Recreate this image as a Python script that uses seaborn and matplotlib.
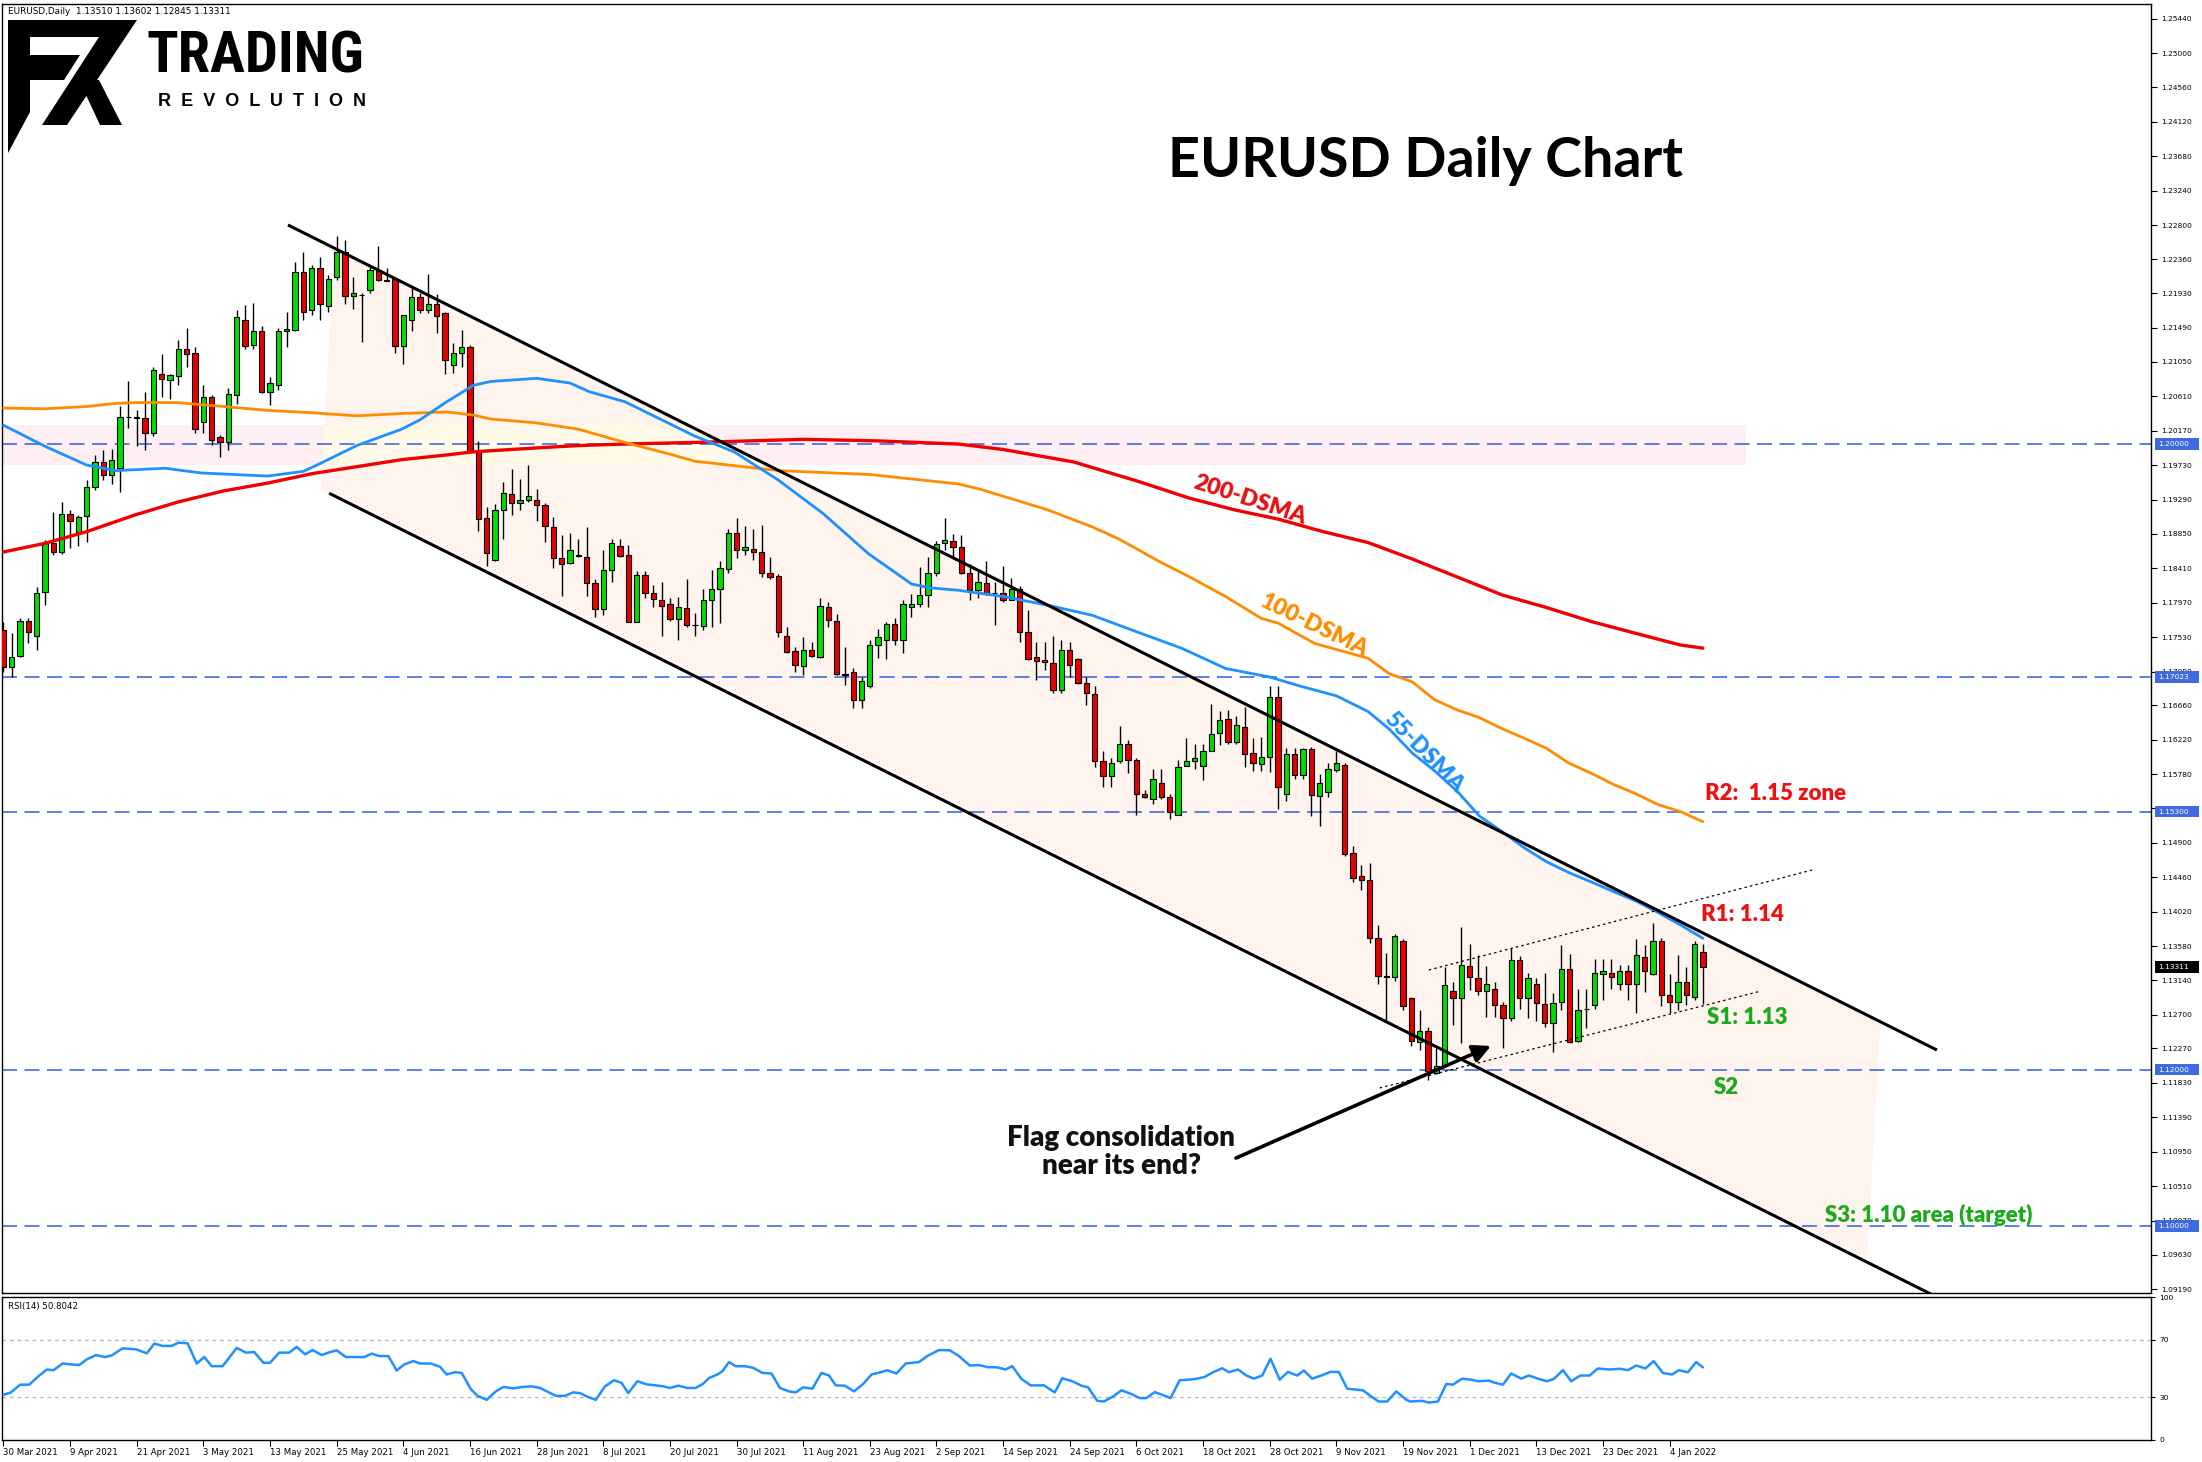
import numpy as np
import pandas as pd
import matplotlib
matplotlib.use('Agg')
import matplotlib.pyplot as plt
import matplotlib.transforms as mtransforms
from matplotlib.patches import Polygon, Rectangle
from matplotlib import font_manager
import seaborn as sns

# ---------------- data ----------------
opens = [1.1762,1.1715,1.1729,1.1774,1.1754,1.1811,1.1873,1.1862,1.1911,1.1888,
         1.1908,1.1945,1.1977,1.1960,1.1969,1.2034,1.2034,1.2033,1.2014,1.2089,
         1.2082,1.2087,1.2122,1.2116,1.2028,1.2060,1.2009,1.2002,1.2063,1.2158,
         1.2126,1.2144,1.2067,1.2076,1.2144,1.2146,1.2220,1.2172,1.2225,1.2176,
         1.2213,1.2246,1.2189,1.2191,1.2197,1.2222,1.2209,1.2211,1.2125,1.2159,
         1.2188,1.2172,1.2179,1.2167,1.2101,1.2116,1.2124,1.1991,1.1905,1.1852,
         1.1916,1.1936,1.1924,1.1929,1.1929,1.1922,1.1894,1.1854,1.1848,1.1857,
         1.1855,1.1822,1.1789,1.1839,1.1870,1.1858,1.1773,1.1833,1.1809,1.1801,
         1.1795,1.1776,1.1790,1.1769,1.1767,1.1800,1.1814,1.1840,1.1886,1.1864,
         1.1866,1.1862,1.1835,1.1831,1.1754,1.1735,1.1716,1.1737,1.1727,1.1791,
         1.1774,1.1706,1.1708,1.1673,1.1690,1.1743,1.1750,1.1770,1.1749,1.1791,
         1.1795,1.1807,1.1835,1.1873,1.1876,1.1868,1.1835,1.1813,1.1822,1.1810,
         1.1809,1.1801,1.1815,1.1759,1.1727,1.1724,1.1720,1.1685,1.1737,1.1725,
         1.1694,1.1680,1.1595,1.1575,1.1594,1.1617,1.1596,1.1552,1.1546,1.1566,
         1.1548,1.1526,1.1588,1.1594,1.1588,1.1608,1.1630,1.1648,1.1619,1.1638,
         1.1605,1.1591,1.1600,1.1677,1.1552,1.1604,1.1577,1.1610,1.1550,1.1555,
         1.1583,1.1590,1.1477,1.1448,1.1443,1.1368,1.1320,1.1319,1.1364,1.1291,
         1.1235,1.1249,1.1196,1.1205,1.1300,1.1291,1.1333,1.1317,1.1300,1.1303,
         1.1282,1.1266,1.1340,1.1292,1.1309,1.1284,1.1259,1.1286,1.1329,1.1237,
         1.1277,1.1282,1.1322,1.1323,1.1309,1.1326,1.1309,1.1344,1.1322,1.1365,
         1.1295,1.1286,1.1312,1.1293,1.13510]
highs = [1.1773,1.1758,1.1777,1.1777,1.1817,1.1877,1.1913,1.1926,1.1916,1.1909,
         1.1954,1.1986,1.1992,1.1993,1.2048,1.2080,1.2043,1.2067,1.2099,1.2115,
         1.2090,1.2133,1.2149,1.2124,1.2075,1.2063,1.2011,1.2071,1.2171,1.2178,
         1.2180,1.2151,1.2086,1.2148,1.2169,1.2233,1.2245,1.2229,1.2239,1.2216,
         1.2266,1.2261,1.2213,1.2193,1.2227,1.2253,1.2225,1.2213,1.2165,1.2199,
         1.2193,1.2217,1.2192,1.2169,1.2129,1.2146,1.2127,1.2004,1.1920,1.1923,
         1.1952,1.1968,1.1955,1.1973,1.1943,1.1924,1.1907,1.1884,1.1886,1.1879,
         1.1894,1.1828,1.1865,1.1879,1.1879,1.1871,1.1837,1.1837,1.1820,1.1824,
         1.1803,1.1804,1.1828,1.1784,1.1815,1.1839,1.1850,1.1891,1.1906,1.1895,
         1.1891,1.1897,1.1856,1.1834,1.1766,1.1740,1.1753,1.1747,1.1803,1.1798,
         1.1783,1.1740,1.1713,1.1702,1.1749,1.1763,1.1773,1.1777,1.1800,1.1808,
         1.1843,1.1855,1.1876,1.1906,1.1885,1.1884,1.1847,1.1837,1.1850,1.1824,
         1.1844,1.1829,1.1818,1.1788,1.1747,1.1747,1.1754,1.1749,1.1747,1.1726,
         1.1702,1.1690,1.1608,1.1598,1.1639,1.1621,1.1598,1.1558,1.1584,1.1584,
         1.1552,1.1596,1.1624,1.1616,1.1616,1.1668,1.1658,1.1660,1.1652,1.1664,
         1.1624,1.1625,1.1691,1.1690,1.1611,1.1611,1.1611,1.1613,1.1578,1.1592,
         1.1607,1.1592,1.1486,1.1462,1.1464,1.1385,1.1349,1.1374,1.1367,1.1293,
         1.1276,1.1255,1.1228,1.1331,1.1312,1.1382,1.1360,1.1347,1.1333,1.1312,
         1.1287,1.1355,1.1345,1.1324,1.1317,1.1324,1.1298,1.1359,1.1348,1.1303,
         1.1303,1.1341,1.1342,1.1342,1.1334,1.1334,1.1367,1.1359,1.1387,1.1368,
         1.1322,1.1347,1.1331,1.1364,1.13602]
lows = [1.1709,1.1702,1.1728,1.1745,1.1737,1.1794,1.1858,1.1859,1.1867,1.1869,
        1.1875,1.1941,1.1954,1.1949,1.1939,1.2020,1.1997,1.1992,1.2010,1.2060,
        1.2058,1.2075,1.2099,1.2014,1.2014,1.1999,1.1984,1.1992,1.2051,1.2122,
        1.2122,1.2065,1.2050,1.2069,1.2124,1.2145,1.2158,1.2165,1.2159,1.2169,
        1.2210,1.2179,1.2173,1.2130,1.2193,1.2209,1.2208,1.2117,1.2102,1.2144,
        1.2167,1.2167,1.2142,1.2090,1.2091,1.2099,1.1990,1.1889,1.1844,1.1851,
        1.1878,1.1909,1.1916,1.1926,1.1901,1.1875,1.1841,1.1805,1.1847,1.1856,
        1.1806,1.1779,1.1781,1.1824,1.1855,1.1772,1.1772,1.1803,1.1792,1.1754,
        1.1774,1.1749,1.1766,1.1754,1.1762,1.1766,1.1771,1.1835,1.1854,1.1858,
        1.1852,1.1830,1.1827,1.1753,1.1733,1.1708,1.1705,1.1728,1.1726,1.1766,
        1.1705,1.1692,1.1663,1.1662,1.1688,1.1726,1.1725,1.1743,1.1733,1.1779,
        1.1792,1.1792,1.1831,1.1864,1.1855,1.1834,1.1800,1.1803,1.1807,1.1769,
        1.1798,1.1800,1.1747,1.1724,1.1698,1.1711,1.1682,1.1682,1.1702,1.1693,
        1.1666,1.1587,1.1561,1.1561,1.1592,1.1579,1.1526,1.1547,1.1540,1.1546,
        1.1521,1.1525,1.1588,1.1585,1.1570,1.1607,1.1615,1.1617,1.1617,1.1587,
        1.1582,1.1582,1.1580,1.1533,1.1544,1.1572,1.1571,1.1524,1.1511,1.1548,
        1.1581,1.1473,1.1440,1.1430,1.1362,1.1309,1.1264,1.1313,1.1276,1.1230,
        1.1225,1.1187,1.1194,1.1204,1.1257,1.1234,1.1302,1.1295,1.1267,1.1267,
        1.1228,1.1262,1.1278,1.1266,1.1262,1.1254,1.1222,1.1276,1.1234,1.1235,
        1.1253,1.1278,1.1289,1.1303,1.1302,1.1289,1.1273,1.1299,1.1321,1.1281,
        1.1272,1.1276,1.1283,1.1289,1.12845]
closes = [1.1715,1.1728,1.1774,1.1760,1.1810,1.1873,1.1862,1.1911,1.1901,1.1907,
          1.1945,1.1977,1.1960,1.1980,1.2034,1.2035,1.2033,1.2014,1.2095,1.2083,
          1.2088,1.2122,1.2115,1.2019,1.2060,1.2005,1.2002,1.2064,1.2162,1.2125,
          1.2144,1.2067,1.2078,1.2144,1.2147,1.2220,1.2169,1.2225,1.2179,1.2211,
          1.2246,1.2189,1.2193,1.2190,1.2222,1.2210,1.2210,1.2125,1.2165,1.2188,
          1.2172,1.2179,1.2164,1.2107,1.2117,1.2124,1.1991,1.1904,1.1860,1.1916,
          1.1937,1.1924,1.1929,1.1934,1.1922,1.1895,1.1854,1.1847,1.1864,1.1858,
          1.1822,1.1789,1.1839,1.1874,1.1857,1.1773,1.1833,1.1809,1.1802,1.1793,
          1.1776,1.1791,1.1769,1.1768,1.1801,1.1815,1.1841,1.1886,1.1865,1.1868,
          1.1862,1.1835,1.1830,1.1760,1.1734,1.1717,1.1737,1.1729,1.1793,1.1775,
          1.1706,1.1705,1.1673,1.1697,1.1743,1.1753,1.1770,1.1749,1.1795,1.1795,
          1.1807,1.1835,1.1872,1.1877,1.1868,1.1835,1.1813,1.1823,1.1808,1.1809,
          1.1801,1.1815,1.1759,1.1725,1.1722,1.1721,1.1685,1.1737,1.1718,1.1694,
          1.1681,1.1595,1.1575,1.1592,1.1617,1.1596,1.1552,1.1548,1.1572,1.1548,
          1.1529,1.1587,1.1595,1.1598,1.1608,1.1629,1.1647,1.1619,1.1641,1.1604,
          1.1592,1.1600,1.1677,1.1561,1.1604,1.1577,1.1610,1.1551,1.1566,1.1584,
          1.1592,1.1476,1.1445,1.1442,1.1368,1.1320,1.1319,1.1371,1.1281,1.1236,
          1.1249,1.1198,1.1205,1.1308,1.1291,1.1334,1.1319,1.1300,1.1309,1.1283,
          1.1266,1.1340,1.1292,1.1317,1.1285,1.1259,1.1285,1.1329,1.1235,1.1276,
          1.1278,1.1323,1.1326,1.1319,1.1326,1.1310,1.1346,1.1326,1.1365,1.1296,
          1.1286,1.1312,1.1296,1.1361,1.13311]

date_labels = ['30 Mar 2021', '9 Apr 2021', '21 Apr 2021', '3 May 2021', '13 May 2021',
               '25 May 2021', '4 Jun 2021', '16 Jun 2021', '28 Jun 2021', '8 Jul 2021',
               '20 Jul 2021', '30 Jul 2021', '11 Aug 2021', '23 Aug 2021', '2 Sep 2021',
               '14 Sep 2021', '24 Sep 2021', '6 Oct 2021', '18 Oct 2021', '28 Oct 2021',
               '9 Nov 2021', '19 Nov 2021', '1 Dec 2021', '13 Dec 2021', '23 Dec 2021',
               '4 Jan 2022']

ma55_x = [0, 5, 10, 13.5, 19.4, 23.7, 31.7, 36, 38, 42.4, 47.8, 50, 53.2, 56.4, 58.5, 64,
          68, 70.3, 74.6, 79, 83, 87.7, 93, 98.4, 103.8, 109, 111.3, 114.6, 120, 125.3,
          130.7, 136, 141.4, 146.7, 152, 155.8, 160, 163.8, 166.4, 169.1, 171.8, 174.5,
          177.2, 179.8, 182.5, 185.2, 187.9, 190.6, 193.2, 195.9, 198.6, 201.3, 204]
ma55 = [1.2024, 1.1997, 1.1973, 1.1966, 1.1969, 1.1963, 1.1959, 1.1965, 1.1975, 1.1998,
        1.2019, 1.2031, 1.2054, 1.2075, 1.2080, 1.2084, 1.2078, 1.2067, 1.2054, 1.2031,
        1.2010, 1.1990, 1.1954, 1.1911, 1.1860, 1.1821, 1.1816, 1.1813, 1.1805, 1.1794,
        1.1781, 1.1760, 1.1739, 1.1713, 1.1702, 1.1690, 1.1678, 1.1658, 1.1635, 1.1605,
        1.1582, 1.1556, 1.1524, 1.1505, 1.1484, 1.1466, 1.1452, 1.1440, 1.1428, 1.1416,
        1.1401, 1.1385, 1.1368]

ma100_x = [0, 5, 10, 13.5, 16, 21, 23, 26.4, 31.7, 37, 42.4, 47.8, 53.2, 56.4, 58.5, 64,
           69, 74.6, 80, 83, 93, 104, 114.6, 117.3, 125.3, 130.7, 134, 138.7, 142.4,
           146.7, 151, 153, 157.4, 163.8, 166.4, 169.1, 171.8, 174.5, 177.2, 179.9, 182.5,
           185.2, 187.9, 190.6, 193.2, 195.9, 198.6, 201.3, 204]
ma100 = [1.2046, 1.2045, 1.2048, 1.2052, 1.2053, 1.2053, 1.2051, 1.2048, 1.2043, 1.2040,
         1.2036, 1.2039, 1.2041, 1.2037, 1.2032, 1.2027, 1.2019, 1.2002, 1.1987, 1.1978,
         1.1966, 1.1961, 1.1949, 1.1942, 1.1916, 1.1894, 1.1878, 1.1850, 1.1830, 1.1805,
         1.1777, 1.1771, 1.1745, 1.1726, 1.1706, 1.1696, 1.1673, 1.1660, 1.1650, 1.1636,
         1.1624, 1.1611, 1.1592, 1.1579, 1.1565, 1.1553, 1.1539, 1.1530, 1.1517]

ma200_x = [0, 5, 10, 15.7, 21, 26.4, 31.7, 37, 42.4, 47.8, 53.2, 56.4, 64, 69, 74.6, 83,
           96, 105, 114.6, 120, 128.5, 131.6, 136, 142.3, 147.7, 153, 158.4, 163.8, 169.1,
           174.5, 179.9, 185.2, 190.6, 195.9, 201.3, 204]
ma200 = [1.1862, 1.1873, 1.1888, 1.1909, 1.1926, 1.1940, 1.1950, 1.1962, 1.1971, 1.1980,
         1.1986, 1.1990, 1.1995, 1.1998, 1.2000, 1.2002, 1.2006, 1.2004, 1.2000, 1.1993,
         1.1977, 1.1967, 1.1953, 1.1931, 1.1916, 1.1904, 1.1888, 1.1874, 1.1853, 1.1830,
         1.1807, 1.1791, 1.1773, 1.1758, 1.1743, 1.1739]

rsi_x = [0.0, 0.9, 2.0, 3.1, 4.1, 5.2, 6.0, 7.1, 8.2, 9.1, 10.0, 11.1, 12.2, 13.0, 14.3, 15.9,
         17.2, 18.1, 19.1, 20.2, 21.0, 22.1, 23.2, 24.1, 25.0, 26.3, 28.0, 29.1, 30.1, 31.2,
         32.0, 33.1, 34.3, 35.2, 36.2, 37.1, 38.2, 39.2, 40.0, 41.1, 42.2, 43.3, 44.2, 45.1,
         46.2, 47.2, 48.1, 49.2, 50.0, 51.3, 52.4, 53.2, 54.2, 55.0, 56.1, 56.9, 58.0, 59.1,
         60.0, 61.2, 62.3, 63.4, 64.4, 65.4, 66.3, 67.4, 68.4, 69.2, 70.2, 71.1, 72.2, 73.3,
         74.2, 75.0, 76.1, 77.2, 78.3, 79.2, 80.0, 81.0, 82.1, 83.1,
         84.0, 84.7, 85.7, 86.3, 87.1, 87.9, 89.0, 90.0, 91.1, 92.2, 93.2, 94.3, 95.1, 96.0,
         97.1, 98.2, 99.1, 99.9, 101.0, 102.1, 103.2, 104.2, 105.3, 106.1, 107.2, 108.3,
         109.9, 110.9, 112.3, 113.6, 114.7, 116.0, 117.1, 118.2, 119.2, 120.3, 121.1, 122.2,
         123.3, 124.9, 126.2, 127.1, 128.3, 129.4, 130.2, 131.3, 132.1, 133.2, 134.2, 135.3,
         136.4, 137.2, 138.2, 139.1, 140.1, 141.2, 142.3, 143.1, 144.2, 145.2, 146.3, 147.1,
         148.2, 149.2, 150.1, 151.1, 152.1, 153.2, 154.2, 155.3, 156.1, 157.1, 158.2, 159.3,
         160.3, 161.3, 162.4, 163.2, 164.3, 165.1, 166.1, 167.2,
         168.4, 168.9, 170.3, 171.1, 172.2, 173.2, 174.0, 175.1, 176.2, 177.0, 178.3, 179.1,
         180.0, 181.0, 182.2, 183.1, 184.2, 185.3, 186.1, 187.2, 188.2, 189.3, 190.4, 191.4,
         192.8, 194.1, 195.0, 196.0, 197.1, 198.1, 199.2, 200.3, 201.1, 202.2, 203.2, 204.0]
rsi_v = [31.6, 33.3, 38.7, 38.7, 44.1, 49.3, 48.8, 53.5, 52.8, 52.4, 56.4, 59.4, 58.0, 59.2,
         64.1, 63.4, 60.6, 67.4, 65.8, 65.8, 68.1, 67.6, 53.5, 58.0, 51.6, 51.6, 64.4, 61.1,
         61.5, 54.0, 54.0, 61.1, 61.1, 65.1, 59.9, 62.9, 59.4, 61.5, 62.7, 58.0, 58.0, 58.0,
         60.4, 58.7, 58.7, 48.6, 52.8, 55.2, 53.5, 53.5, 51.2, 45.8, 47.4, 46.9, 35.6, 30.9,
         28.1, 34.0, 37.1, 36.1, 37.1, 37.5, 36.4, 33.5, 30.9, 30.9, 33.3, 32.8, 30.0, 28.1,
         37.5, 41.8, 39.9, 32.8, 41.1, 38.9, 38.2, 37.5, 36.4, 38.0, 36.4, 36.4,
         39.4, 43.4, 45.8, 48.1, 54.5, 51.6, 51.6, 50.5, 46.9, 46.5, 36.4, 34.0, 33.3, 36.8,
         35.9, 46.9, 45.1, 38.2, 38.0, 34.0, 39.2, 45.8, 47.4, 48.8, 46.5, 53.5, 54.5, 58.7,
         62.9, 62.7, 58.7, 52.1, 52.4, 50.9, 50.9, 49.3, 51.6, 42.7, 38.2, 38.2, 33.3, 43.2,
         41.1, 38.0, 36.8, 27.4, 26.9, 30.5, 34.7, 32.4, 29.3, 29.3, 33.5, 31.6, 29.3, 41.8,
         42.2, 42.7, 44.1, 47.4, 50.2, 47.4, 49.3, 45.1, 42.9, 45.1, 56.8, 42.2, 47.6, 45.1,
         48.6, 42.9, 45.1, 47.6, 47.6, 35.9, 35.2, 34.7, 30.0, 26.9, 26.9, 34.0,
         28.1, 26.9, 27.4, 26.2, 26.9, 39.2, 38.7, 42.9, 42.2, 41.1, 41.5, 39.9, 38.7, 46.5,
         42.9, 45.1, 42.9, 41.1, 42.7, 48.8, 41.1, 45.1, 45.1, 50.0, 49.3, 49.8, 48.8, 52.1,
         50.0, 55.2, 46.9, 45.8, 48.8, 47.4, 54.5, 50.8]

price_ticks = [1.25440, 1.25000, 1.24560, 1.24120, 1.23680, 1.23240, 1.22800, 1.22360,
               1.21930, 1.21490, 1.21050, 1.20610, 1.20170, 1.19730, 1.19290, 1.18850,
               1.18410, 1.17970, 1.17530, 1.17090, 1.16660, 1.16220, 1.15780, 1.15340,
               1.14900, 1.14460, 1.14020, 1.13580, 1.13140, 1.12700, 1.12270, 1.11830,
               1.11390, 1.10950, 1.10510, 1.10070, 1.09630, 1.09190]
level_lines = [1.20000, 1.17023, 1.15300, 1.12000, 1.10000]
last_price = 1.13311
rsi_ticks = [0, 30, 70, 100]

# ---------------- styling ----------------
sns.set_theme(style='white')
plt.rcParams['font.family'] = ['DejaVu Sans']
plt.rcParams['axes.edgecolor'] = 'black'

avail = {f.name for f in font_manager.fontManager.ttflist}
def pick(*names):
    for n in names:
        if n in avail:
            return n
    return 'DejaVu Sans'
LBL = pick('Lato', 'Open Sans', 'Noto Sans', 'DejaVu Sans')
NARROW = pick('Liberation Sans Narrow', 'Roboto Condensed', 'DejaVu Sans Condensed')
if NARROW in ('Liberation Sans Narrow', 'Roboto Condensed'):
    trading_size = 42
else:
    NARROW = pick('DejaVu Sans')
    trading_size = 31

W, H = 2202, 1462
fig = plt.figure(figsize=(W / 100, H / 100), dpi=100)
fig.patch.set_facecolor('white')

def fbox(l, t, r, b):
    return [l / W, 1 - b / H, (r - l) / W, (b - t) / H]

def fpt(x, y):
    return (x / W, 1 - y / H)

ax = fig.add_axes(fbox(2, 4, 2151, 1293))
rax = fig.add_axes(fbox(2, 1297, 2151, 1440))
XL = (-0.18, 257.8)

for a in (ax, rax):
    a.set_facecolor('white')
    a.set_xlim(*XL)
    for s in a.spines.values():
        s.set_color('black')
        s.set_linewidth(1.0)
    a.grid(False)

ax.set_ylim(1.09143, 1.25627)

# zones / channel fill
pink = Rectangle((-1, 1.19731), 210.2, 0.00512, fc='#ffeef3', ec='none', zorder=1.0)
ax.add_patch(pink)
channel_poly = Polygon([(39.67, 1.22506), (225.3, 1.12621), (223.7, 1.09527), (38.12, 1.19412)],
                       closed=True, fc='#fff3ee', ec='none', zorder=1.1)
ax.add_patch(channel_poly)
cream = Rectangle((-1, 1.19731), 210.2, 0.00512, fc='#fffbe8', ec='none', zorder=1.2)
ax.add_patch(cream)
cream.set_clip_path(channel_poly)

for lvl in level_lines:
    ax.axhline(lvl, color='#4169e1', lw=1.2, dashes=(9, 4.5), zorder=2)

# candles
xi = np.arange(len(closes))
o = np.array(opens); c = np.array(closes); h = np.array(highs); l = np.array(lows)
up = c >= o
ax.vlines(xi, l, h, color='black', lw=1.0, zorder=3)
body = np.maximum(np.abs(c - o), 0.00004)
ax.bar(xi, body, bottom=np.minimum(o, c), width=0.64,
       color=np.where(up, '#00dc00', '#e60000'), edgecolor='black', linewidth=0.8, zorder=3.5)

# moving averages
sns.lineplot(x=ma200_x, y=ma200, ax=ax, color='#f00000', linewidth=2.4, zorder=4)
sns.lineplot(x=ma100_x, y=ma100, ax=ax, color='#ff8c00', linewidth=2.0, zorder=4)
sns.lineplot(x=ma55_x, y=ma55, ax=ax, color='#1e90ff', linewidth=2.0, zorder=4)

# channel lines
ax.plot([34.15, 232.1], [1.22801, 1.12250], color='black', lw=2.2, zorder=5, solid_capstyle='butt')
ax.plot([39.1, 240.0], [1.19370, 1.08670], color='black', lw=2.2, zorder=5, solid_capstyle='butt')
# flag lines
ax.plot([171.1, 217.1], [1.13274, 1.14552], color='black', lw=0.9, dashes=(2, 2.5), zorder=5)
ax.plot([165.2, 211.0], [1.11765, 1.13005], color='black', lw=0.9, dashes=(2, 2.5), zorder=5)

# arrow
ax.annotate('', xy=(178.57, 1.12302), xytext=(147.96, 1.10869),
            arrowprops=dict(arrowstyle='-|>,head_length=0.9,head_width=0.45', lw=2.6,
                            color='black', shrinkA=0, shrinkB=0), zorder=6)

# annotations
WT = 'heavy'
ax.text(134.2, 1.10946, 'Flag consolidation\nnear its end?', ha='center', va='center',
        fontsize=20, fontweight=WT, family=LBL, color='#111111', linespacing=1.12, zorder=7)
ax.text(149.6, 1.19284, '200-DSMA', rotation=-18, ha='center', va='center', fontsize=16.5,
        fontweight=WT, family=LBL, color='#e81010', zorder=7)
ax.text(157.4, 1.17673, '100-DSMA', rotation=-26, ha='center', va='center', fontsize=16.5,
        fontweight=WT, family=LBL, color='#ff8c00', zorder=7)
ax.text(170.5, 1.16061, '55-DSMA', rotation=-45.5, ha='center', va='center', fontsize=16.5,
        fontweight=WT, family=LBL, color='#1e90ff', zorder=7)
RED_T, GRN_T = '#ee1111', '#1aaa1a'
ax.text(204.3, 1.15537, 'R2:  1.15 zone', ha='left', va='center', fontsize=16,
        fontweight=WT, family=LBL, color=RED_T, zorder=7)
ax.text(203.8, 1.13977, 'R1: 1.14', ha='left', va='center', fontsize=16,
        fontweight=WT, family=LBL, color=RED_T, zorder=7)
ax.text(204.5, 1.12660, 'S1: 1.13', ha='left', va='center', fontsize=16,
        fontweight=WT, family=LBL, color=GRN_T, zorder=7)
ax.text(205.3, 1.11765, 'S2', ha='left', va='center', fontsize=16,
        fontweight=WT, family=LBL, color=GRN_T, zorder=7)
ax.text(218.7, 1.10140, 'S3: 1.10 area (target)', ha='left', va='center', fontsize=16,
        fontweight=WT, family=LBL, color=GRN_T, zorder=7)

# price axis
ax.set_xticks([])
ax.yaxis.tick_right()
ax.set_yticks(price_ticks)
ax.set_yticklabels([f'{t:.5f}' for t in price_ticks])
ax.tick_params(axis='y', which='both', right=True, left=False, direction='out', length=4,
               width=0.8, pad=3, labelsize=5.4, colors='black')

trans = mtransforms.blended_transform_factory(fig.transFigure, ax.transData)
box_h = 0.00075
for lvl, fc in [(v, '#3f6ae0') for v in level_lines] + [(last_price, 'black')]:
    r = Rectangle((2155 / W, lvl - box_h), 44 / W, 2 * box_h, transform=trans, fc=fc,
                  ec='none', clip_on=False, zorder=9)
    ax.add_patch(r)
    ax.text(2158 / W, lvl, f'{lvl:.5f}', transform=trans, ha='left', va='center',
            fontsize=5.4, color='white', clip_on=False, zorder=10)

# RSI panel
rax.set_ylim(0, 100)
for lv in (30, 70):
    rax.axhline(lv, color='#b8b8b8', lw=0.9, dashes=(3, 3), zorder=1)
sns.lineplot(x=rsi_x, y=rsi_v, ax=rax, color='#1e90ff', linewidth=1.8, zorder=3)
rax.yaxis.tick_right()
rax.set_yticks(rsi_ticks)
rax.set_yticklabels([str(t) for t in rsi_ticks])
rax.tick_params(axis='y', right=True, left=False, direction='out', length=3, width=0.8,
                pad=3, labelsize=5.4, colors='black')
rax.set_xticks(list(range(0, 201, 8)))
rax.set_xticklabels(date_labels)
rax.tick_params(axis='x', bottom=True, direction='out', length=4, width=0.8, pad=2,
                labelsize=6.2, colors='black')
for t in rax.get_xticklabels():
    t.set_ha('left')
rax.set_xlabel('')
rax.set_ylabel('')
ax.set_xlabel('')
ax.set_ylabel('')

# header texts
fig.text(*fpt(8, 12), 'EURUSD,Daily  1.13510 1.13602 1.12845 1.13311', ha='left', va='center',
         fontsize=6.4, color='black')
fig.text(*fpt(8, 1306), 'RSI(14) 50.8042', ha='left', va='center', fontsize=6.2, color='black')
fig.text(*fpt(1426, 161), 'EURUSD Daily Chart', ha='center', va='center', fontsize=40,
         fontweight='bold', family=LBL, color='black')

# logo
def logo_poly(pts):
    p = Polygon([fpt(x, y) for x, y in pts], closed=True, fc='black', ec='none',
                transform=fig.transFigure)
    fig.add_artist(p)

logo_poly([(8, 20), (30, 20), (30, 112), (8, 153)])
logo_poly([(8, 20), (112, 20), (101, 37), (8, 37)])
logo_poly([(110, 20), (137, 20), (67, 125), (42, 125)])
logo_poly([(30, 55), (80, 55), (64, 80), (30, 80)])
logo_poly([(79, 80), (99, 80), (122, 125), (100, 125)])
fig.text(*fpt(147, 57), 'TRADING', ha='left', va='center', fontsize=trading_size,
         fontweight='bold', family=NARROW, color='black')
fig.text(*fpt(262, 102), 'R  E  V  O  L  U  T  I  O  N', ha='center', va='center', fontsize=13,
         fontweight='bold', family=pick('Liberation Sans', 'DejaVu Sans'), color='black')

fig.savefig('out.png', dpi=100, facecolor='white')
